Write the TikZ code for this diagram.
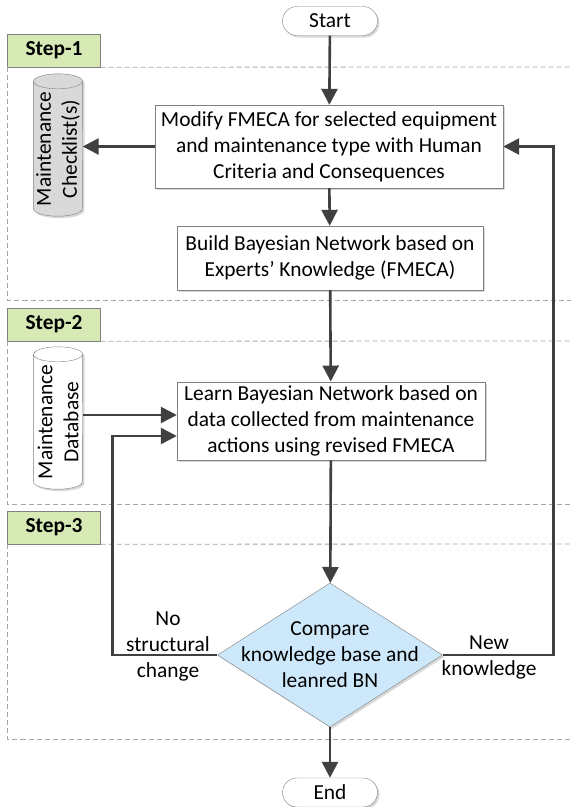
\documentclass[tikz,border=0pt]{standalone}
\usepackage{fontspec}
\setmainfont{Carlito}
\usetikzlibrary{positioning, arrows.meta, shapes.geometric, shadows}

\definecolor{steptag}{RGB}{215,234,182}
\definecolor{decision}{RGB}{204,232,250}
\definecolor{flowline}{RGB}{64,64,64}

\begin{document}
\begin{tikzpicture}[
    x=1pt, y=-1pt, % pixel-like grid, y grows downwards
    every node/.style={font=\fontsize{21.4}{26}\selectfont, align=center},
    softshadow/.style={drop shadow={shadow xshift=2pt, shadow yshift=-2pt, fill=black!30, opacity=0.5}},
    process/.style={draw=gray, fill=white, softshadow, inner sep=4pt},
    terminal/.style={draw=gray, fill=white, softshadow, minimum width=95, minimum height=29, rounded corners=14.5pt, inner sep=0pt},
    decisionbox/.style={diamond, draw=gray, fill=decision, softshadow, minimum width=225, minimum height=144, inner sep=0pt},
    store/.style={minimum width=49, minimum height=142, inner sep=0pt},
    drum/.style={draw=gray, softshadow},
    tag/.style={draw=gray, fill=steptag, minimum width=93, minimum height=33, font=\fontsize{21.4}{26}\selectfont\bfseries},
    group/.style={draw=gray!70, dash pattern=on 5pt off 3pt, line width=0.8pt},
    flow/.style={draw=flowline, line width=2.6pt, -{Triangle[length=16pt, width=16pt]}}
]
    \useasboundingbox (0,0) rectangle (571,807);

    % Step tags and their dashed frames
    \node[tag] (step1) at (54,50.5) {Step-1};
    \node[tag] (step2) at (54,324.5) {Step-2};
    \node[tag] (step3) at (54,527.5) {Step-3};
    \draw[group] (step1.south east) -- (571,67);
    \draw[group] (step1.south west) |- (571,300);
    \draw[group] (step2.south east) -- (571,341);
    \draw[group] (step2.south west) |- (571,504);
    \draw[group] (step3.south east) -- (571,544);
    \draw[group] (step3.south west) |- (571,739);

    % Place the nodes
    \node[terminal] (start) at (330,21) {Start};
    \node[process, minimum width=348, minimum height=83] (modify) at (329,146.5)
        {Modify FMECA for selected equipment\\and maintenance type with Human\\Criteria and Consequences};
    \node[process, minimum width=306, minimum height=64] (build) at (330,258)
        {Build Bayesian Network based on\\Experts’ Knowledge (FMECA)};
    \node[process, minimum width=308, minimum height=78] (learn) at (331,421)
        {Learn Bayesian Network based on\\data collected from maintenance\\actions using revised FMECA};
    \node[decisionbox] (compare) at (330,655) {};
    \node (comparetext) at (compare.center) {Compare\\knowledge base and\\leanred BN};
    \node[terminal] (end) at (330,792.5) {End};

    % Data stores: drum outline round an empty node, text turned upwards
    \node[store] (checklist) at (58,145) {};
    \node[store] (database) at (58,418) {};
    \foreach \s/\c in {checklist/gray!30, database/white}{
        \draw[drum, fill=\c] ([yshift=-7.5pt]\s.north west) -- ([yshift=7.5pt]\s.south west)
            arc[start angle=180, end angle=360, x radius=24.5pt, y radius=7.5pt]
            -- ([yshift=-7.5pt]\s.north east)
            arc[start angle=0, end angle=180, x radius=24.5pt, y radius=7.5pt] -- cycle;
        \draw[draw=gray] ([yshift=-7.5pt]\s.north west)
            arc[start angle=180, end angle=360, x radius=24.5pt, y radius=7.5pt];
    }
    \node[rotate=90] (checklisttext) at ([yshift=-4pt]checklist.center) {Maintenance\\Checklist(s)};
    \node[rotate=90] (databasetext) at ([yshift=-4pt]database.center) {Maintenance\\Database};

    % Entry points on the left side of the learning box
    \coordinate (dbin) at ([yshift=6pt]learn.west);
    \coordinate (loopin) at ([yshift=-15pt]learn.west);

    % Draw the edges
    \draw[flow] (start) -- (modify);
    \draw[flow] (modify.west) -- (modify.west -| checklist.east);
    \draw[flow] (modify) -- (build);
    \draw[flow] (build) -- (learn);
    \draw[flow] (dbin -| database.east) -- (dbin);
    \draw[flow] (learn) -- (compare);
    \draw[flow] (compare) -- (end);
    \draw[flow] (compare.west) -- ++(-105,0) |- (loopin);
    \draw[flow] (compare.east) -- ++(111,0) |- (modify.east);

    % Branch labels
    \node (nochange) at (168,646) {No\\structural\\change};
    \node (newknow) at (489,657) {New\\knowledge};
\end{tikzpicture}
\end{document}
